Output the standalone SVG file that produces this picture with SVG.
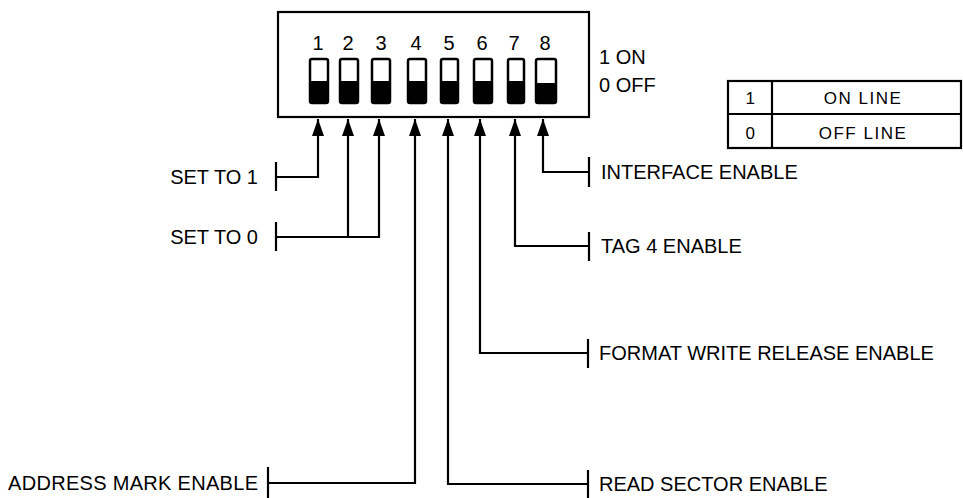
<svg xmlns="http://www.w3.org/2000/svg" width="963" height="498" viewBox="0 0 963 498">
<defs>
<style>
.t{font-family:"Liberation Sans",Arial,sans-serif;font-size:20px;fill:#000}
.s{font-family:"Liberation Sans",Arial,sans-serif;font-size:17px;letter-spacing:1.5px;fill:#000}
.ln{fill:none;stroke:#000;stroke-width:2.2}
.sw{fill:#fff;stroke:#000;stroke-width:2.5}
.bk{fill:#000}
</style>
<marker id="ah" markerUnits="userSpaceOnUse" markerWidth="18" markerHeight="12" refX="17" refY="6" orient="auto" viewBox="0 0 18 12">
<path d="M0,0 L17,6 L0,12 Z" fill="#000"/>
</marker>
</defs>
<rect width="963" height="498" fill="#fff"/>
<g id="dipswitch">
<rect x="278" y="12" width="311" height="105" class="ln"/>
<g class="t" text-anchor="middle">
<text x="318" y="50">1</text><text x="348" y="50">2</text><text x="381" y="50">3</text><text x="416" y="50">4</text>
<text x="449" y="50">5</text><text x="482" y="50">6</text><text x="514" y="50">7</text><text x="545" y="50">8</text>
</g>
<rect x="310" y="59" width="18" height="44" rx="2" class="sw"/><rect x="310" y="81" width="18" height="22" class="bk"/>
<rect x="340" y="59" width="18" height="44" rx="2" class="sw"/><rect x="340" y="81" width="18" height="22" class="bk"/>
<rect x="372" y="59" width="18" height="44" rx="2" class="sw"/><rect x="372" y="81" width="18" height="22" class="bk"/>
<rect x="408" y="59" width="18" height="44" rx="2" class="sw"/><rect x="408" y="81" width="18" height="22" class="bk"/>
<rect x="441" y="59" width="17" height="44" rx="2" class="sw"/><rect x="441" y="81" width="17" height="22" class="bk"/>
<rect x="474" y="59" width="18" height="44" rx="2" class="sw"/><rect x="474" y="81" width="18" height="22" class="bk"/>
<rect x="508" y="59" width="16" height="44" rx="2" class="sw"/><rect x="508" y="81" width="16" height="22" class="bk"/>
<rect x="536" y="59" width="20" height="44" rx="2" class="sw"/><rect x="536" y="83" width="20" height="20" class="bk"/>
</g>
<g id="legend-onoff">
<text x="599" y="64" class="t" font-size="19">1 ON</text>
<text x="599" y="92" class="t" font-size="19">0 OFF</text>
</g>
<g id="table">
<rect x="728" y="81" width="233" height="67" class="ln" stroke-width="1.8"/>
<line x1="728" y1="114" x2="961" y2="114" class="ln" stroke-width="1.8"/>
<line x1="772" y1="81" x2="772" y2="148" class="ln" stroke-width="1.8"/>
<text x="751" y="104" class="s" text-anchor="middle">1</text>
<text x="863" y="104" class="s" text-anchor="middle">ON LINE</text>
<text x="751" y="139" class="s" text-anchor="middle">0</text>
<text x="863" y="139" class="s" text-anchor="middle">OFF LINE</text>
</g>
<g id="connectors">
<path class="ln" marker-end="url(#ah)" d="M276,177 H318 V119"/>
<path class="ln" marker-end="url(#ah)" d="M276,237 H348 V119"/>
<path class="ln" marker-end="url(#ah)" d="M348,237 H379 V119"/>
<path class="ln" marker-end="url(#ah)" d="M268,483 H415 V119"/>
<path class="ln" marker-end="url(#ah)" d="M588,484 H448 V119"/>
<path class="ln" marker-end="url(#ah)" d="M588,353 H480 V119"/>
<path class="ln" marker-end="url(#ah)" d="M589,246 H515 V119"/>
<path class="ln" marker-end="url(#ah)" d="M589,172 H543 V119"/>
<line class="ln" x1="276" y1="162" x2="276" y2="191"/>
<line class="ln" x1="276" y1="222" x2="276" y2="251"/>
<line class="ln" x1="268" y1="467" x2="268" y2="498"/>
<line class="ln" x1="588" y1="470" x2="588" y2="499"/>
<line class="ln" x1="588" y1="339" x2="588" y2="368"/>
<line class="ln" x1="589" y1="232" x2="589" y2="261"/>
<line class="ln" x1="589" y1="157" x2="589" y2="187"/>
</g>
<g id="label-set1"><text x="258" y="184" class="t" text-anchor="end">SET TO 1</text></g>
<g id="label-set0"><text x="258" y="244" class="t" text-anchor="end">SET TO 0</text></g>
<g id="label-address"><text x="258" y="490" class="t" text-anchor="end" textLength="250">ADDRESS MARK ENABLE</text></g>
<g id="label-interface"><text x="601" y="179" class="t">INTERFACE ENABLE</text></g>
<g id="label-tag4"><text x="601" y="253" class="t">TAG 4 ENABLE</text></g>
<g id="label-format"><text x="599" y="360" class="t">FORMAT WRITE RELEASE ENABLE</text></g>
<g id="label-read"><text x="599" y="491" class="t">READ SECTOR ENABLE</text></g>
</svg>
